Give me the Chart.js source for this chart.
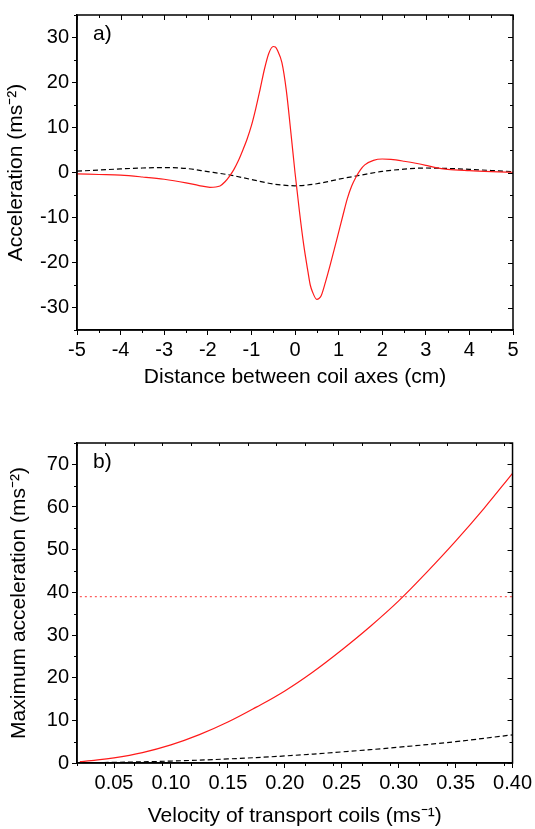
<!DOCTYPE html>
<html>
<head>
<meta charset="utf-8">
<script src="https://cdn.jsdelivr.net/npm/chart.js@4"></script>
<style>
  body { margin: 0; background: #fff; }
  .box { position: absolute; left: 0; width: 535px; }
</style>
</head>
<body>
<div class="box" style="top:0;height:400px"><canvas id="chartA"></canvas></div>
<div class="box" style="top:420px;height:409px"><canvas id="chartB"></canvas></div>
<script>
// ---- panel a) acceleration vs distance ----
const distRed = [-5,-4.5,-4,-3.5,-3,-2.5,-2.2,-1.95,-1.72,-1.6,-1.5,-1.4,-1.3,-1.2,-1.1,-1,-0.9,-0.8,-0.7,-0.6,-0.5,-0.45,-0.4,-0.3,-0.2,-0.1,0,0.1,0.2,0.3,0.35,0.4,0.5,0.55,0.6,0.7,0.8,0.9,1,1.1,1.2,1.3,1.4,1.5,1.6,1.8,2,2.2,2.5,2.8,3,3.2,3.5,4,4.5,5];
const accRed = [-0.3,-0.45,-0.6,-1.0,-1.5,-2.3,-2.9,-3.3,-3.0,-2.0,-0.8,0.7,2.6,4.9,7.4,10.4,14.2,18.5,23.0,26.5,28.0,27.9,27.1,24.4,18.3,9.4,0,-8.5,-16.1,-22.2,-25.0,-26.5,-28.2,-28.0,-27.4,-24.3,-20.8,-17.1,-13.3,-9.5,-5.8,-3.0,-1.0,0.6,1.7,2.7,3.0,2.9,2.5,2.0,1.6,1.15,0.7,0.4,0.2,0.05];
const distBlack = [-5,-4.5,-4,-3.5,-3,-2.5,-2,-1.5,-1,-0.5,0,0.5,1,1.5,2,2.5,3,3.5,4,4.5,5];
const accBlack = [0.3,0.55,0.8,1.0,1.1,0.9,0.2,-0.55,-1.55,-2.55,-2.95,-2.5,-1.5,-0.6,0.25,0.75,1.0,0.9,0.7,0.45,0.2];
const ticksA_x = [-5,-4,-3,-2,-1,0,1,2,3,4,5];
const ticksA_y = [-30,-20,-10,0,10,20,30];

// ---- panel b) maximum acceleration vs velocity ----
const velRed = [0.02,0.03,0.05,0.075,0.1,0.125,0.15,0.175,0.2,0.225,0.25,0.275,0.3,0.325,0.35,0.375,0.4];
const maxRed = [0.3,0.55,1.2,2.45,4.25,6.65,9.6,13.1,16.9,21.4,26.5,32.0,38.0,44.8,52.0,59.7,67.9];
const velBlack = [0.02,0.05,0.1,0.15,0.2,0.25,0.3,0.35,0.4];
const maxBlack = [0.05,0.15,0.45,0.95,1.65,2.6,3.7,5.0,6.6];
const velLimit = [0.02,0.4];
const maxLimit = [39,39];
const ticksB_x = [0.05,0.10,0.15,0.20,0.25,0.30,0.35,0.40];
const ticksB_y = [0,10,20,30,40,50,60,70];

const FONT = "'Liberation Sans', Arial, sans-serif";
const pts = (xs, ys) => xs.map((x, i) => ({x: x, y: ys[i]}));

// box around the plot, minor ticks outside, mirrored ticks inside, panel letter
const framePlugin = {
	id: 'frame',
	afterDraw(chart, args, opts) {
		const {ctx, chartArea: a, scales: {x, y}} = chart;
		ctx.save();
		ctx.strokeStyle = '#000';
		ctx.lineWidth = 1.5;
		ctx.strokeRect(a.left, a.top, a.right - a.left, a.bottom - a.top);
		ctx.lineWidth = 1;
		ctx.beginPath();
		for (let v = x.min; v <= x.max + 1e-9; v += opts.xMinor) {
			const px = Math.round(x.getPixelForValue(v)) + 0.5;
			const major = opts.xMajor.some(m => Math.abs(m - v) < 1e-6);
			if (!major) { ctx.moveTo(px, a.bottom); ctx.lineTo(px, a.bottom + 3); }
			ctx.moveTo(px, a.top); ctx.lineTo(px, a.top + (major ? 5 : 3));
		}
		for (let v = y.min; v <= y.max + 1e-9; v += opts.yMinor) {
			const py = Math.round(y.getPixelForValue(v)) + 0.5;
			const major = opts.yMajor.some(m => Math.abs(m - v) < 1e-6);
			if (!major) { ctx.moveTo(a.left, py); ctx.lineTo(a.left - 3, py); }
			ctx.moveTo(a.right, py); ctx.lineTo(a.right - (major ? 5 : 3), py);
		}
		ctx.stroke();
		ctx.fillStyle = '#000';
		ctx.font = '21px ' + FONT;
		ctx.textBaseline = 'middle';
		ctx.fillText(opts.label, a.left + 16, a.top + 19);
		ctx.restore();
	}
};

function axis(title, tickVals, min, max, fmt, titlePad) {
	return {
		type: 'linear',
		min: min,
		max: max,
		afterBuildTicks: s => { s.ticks = tickVals.map(v => ({value: v})); },
		grid: { drawOnChartArea: false, drawTicks: true, tickLength: 5, color: '#000', lineWidth: 1 },
		border: { display: true, color: '#000', width: 1.5 },
		ticks: { color: '#000', font: { family: FONT, size: 20 }, padding: 3, maxRotation: 0, autoSkip: false, callback: fmt },
		title: { display: true, text: title, color: '#000', font: { family: FONT, size: 21 }, padding: titlePad }
	};
}

const lineDefaults = { pointRadius: 0, fill: false, borderWidth: 1.2 };

new Chart(document.getElementById('chartA').getContext('2d'), {
	type: 'line',
	data: {
		datasets: [
			Object.assign({ data: pts(distRed, accRed), borderColor: '#ff1a1a', cubicInterpolationMode: 'monotone' }, lineDefaults),
			Object.assign({ data: pts(distBlack, accBlack), borderColor: '#000', borderDash: [5, 3], cubicInterpolationMode: 'monotone' }, lineDefaults)
		]
	},
	options: {
		responsive: true,
		maintainAspectRatio: false,
		animation: false,
		layout: { padding: { top: 8, right: 22, left: 0, bottom: 0 } },
		scales: {
			x: Object.assign(axis('Distance between coil axes (cm)', ticksA_x, -5, 5, v => String(v), { top: 0, bottom: 10 }), { afterFit: s => { s.height = 70; } }),
			y: Object.assign(axis('Acceleration (ms⁻²)', ticksA_y, -35, 35, v => String(v), { top: 4, bottom: 0 }), { afterFit: s => { s.width = 77; } })
		},
		plugins: {
			legend: { display: false },
			tooltip: { enabled: false },
			frame: { label: 'a)', xMinor: 0.5, yMinor: 5, xMajor: ticksA_x, yMajor: ticksA_y }
		}
	},
	plugins: [framePlugin]
});

new Chart(document.getElementById('chartB').getContext('2d'), {
	type: 'line',
	data: {
		datasets: [
			Object.assign({ data: pts(velRed, maxRed), borderColor: '#ff1a1a', tension: 0.4 }, lineDefaults),
			Object.assign({ data: pts(velBlack, maxBlack), borderColor: '#000', borderDash: [5, 3], tension: 0.4 }, lineDefaults),
			Object.assign({ data: pts(velLimit, maxLimit), borderColor: 'rgba(255,40,40,0.75)', borderDash: [2, 3] }, lineDefaults)
		]
	},
	options: {
		responsive: true,
		maintainAspectRatio: false,
		animation: false,
		layout: { padding: { top: 23, right: 22, left: 0, bottom: 0 } },
		scales: {
			x: Object.assign(axis('Velocity of transport coils (ms⁻¹)', ticksB_x, 0.0175, 0.4, v => v.toFixed(2), { top: 0, bottom: 0 }), { afterFit: s => { s.height = 66; } }),
			y: Object.assign(axis('Maximum acceleration (ms⁻²)', ticksB_y, 0, 75, v => String(v), { top: 7, bottom: 0 }), { afterFit: s => { s.width = 77; } })
		},
		plugins: {
			legend: { display: false },
			tooltip: { enabled: false },
			frame: { label: 'b)', xMinor: 0.025, yMinor: 5, xMajor: ticksB_x, yMajor: ticksB_y }
		}
	},
	plugins: [framePlugin]
});
</script>
</body>
</html>
